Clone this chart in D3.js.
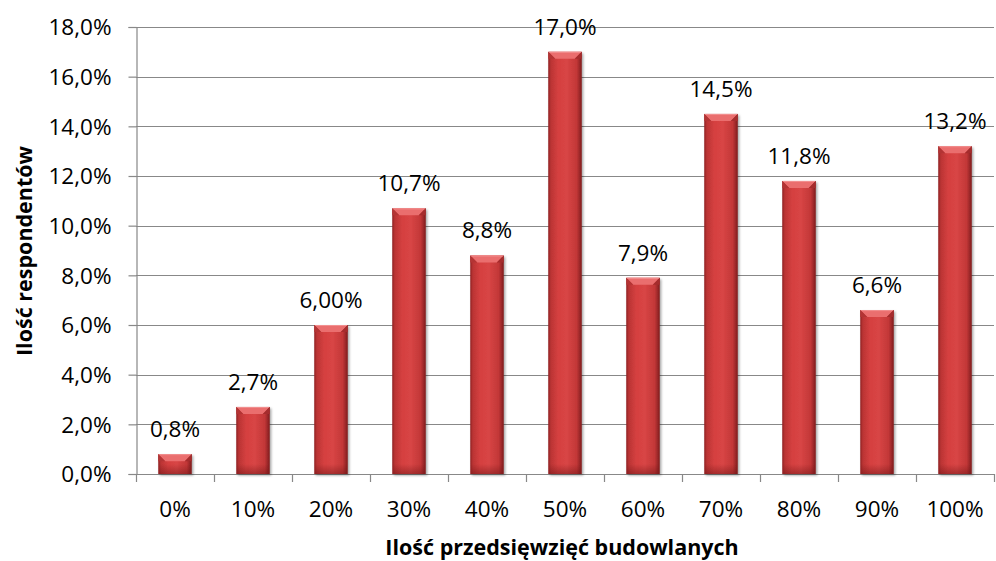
<!DOCTYPE html>
<html>
<head>
<meta charset="utf-8">
<script src="https://cdn.jsdelivr.net/npm/d3@7"></script>
<style>
  html, body { margin: 0; padding: 0; background: #fff; }
  svg { display: block; font-family: "Open Sans", Lato, "Noto Sans", sans-serif; }
</style>
</head>
<body>
<svg id="chart" width="996" height="561"></svg>
<script>
// Share of respondents by share of construction projects
const categories = ["0%", "10%", "20%", "30%", "40%", "50%", "60%", "70%", "80%", "90%", "100%"];
const values = [0.8, 2.7, 6.0, 10.7, 8.8, 17.0, 7.9, 14.5, 11.8, 6.6, 13.2];
const valueLabels = ["0,8%", "2,7%", "6,00%", "10,7%", "8,8%", "17,0%", "7,9%", "14,5%", "11,8%", "6,6%", "13,2%"];
const yTicks = [0, 2, 4, 6, 8, 10, 12, 14, 16, 18];
const xTitle = "Ilość przedsięwzięć budowlanych";
const yTitle = "Ilość respondentów";

const svg = d3.select("#chart");
const margin = { left: 136, right: 2, top: 27, bottom: 87 };
const W = 996, H = 561;
const x0 = margin.left, x1 = W - margin.right;
const y0 = H - margin.bottom, y1 = margin.top;
const fontSize = 22.5;
const titleSize = 21.5;

const x = d3.scaleBand().domain(categories).range([x0, x1]).paddingInner(0.57).paddingOuter(0.285);
const y = d3.scaleLinear().domain([0, 18]).range([y0, y1]);

const defs = svg.append("defs");
const body = defs.append("linearGradient").attr("id", "barBody").attr("x1", 0).attr("x2", 1).attr("y1", 0).attr("y2", 0);
[[0, "#902224"], [0.08, "#bb3434"], [0.3, "#d54040"], [0.55, "#d84545"], [0.85, "#c23737"], [1, "#7e1c1e"]]
  .forEach(([o, c]) => body.append("stop").attr("offset", o).attr("stop-color", c));
const bottomShade = defs.append("linearGradient").attr("id", "barBottom").attr("x1", 0).attr("x2", 0).attr("y1", 0).attr("y2", 1);
bottomShade.append("stop").attr("offset", 0).attr("stop-color", "#6a1214").attr("stop-opacity", 0);
bottomShade.append("stop").attr("offset", 1).attr("stop-color", "#6a1214").attr("stop-opacity", 0.45);
const shadow = defs.append("filter").attr("id", "shadow").attr("x", "-20%").attr("y", "-20%").attr("width", "140%").attr("height", "140%");
shadow.append("feDropShadow").attr("dx", 1.5).attr("dy", 1.5).attr("stdDeviation", 1.2).attr("flood-color", "#000").attr("flood-opacity", 0.35);

// gridlines
svg.append("g").selectAll("line").data(yTicks).join("line")
  .attr("x1", x0).attr("x2", x1)
  .attr("y1", d => Math.round(y(d)) + 0.5).attr("y2", d => Math.round(y(d)) + 0.5)
  .attr("stroke", "#888").attr("stroke-width", 1.2);

// y axis
const yAxis = d3.axisLeft(y).tickValues(yTicks).tickSize(8).tickPadding(17)
  .tickFormat(d => d3.format(".1f")(d).replace(".", ",") + "%");
const gy = svg.append("g").attr("transform", `translate(${x0 + 0.5},0)`).call(yAxis);
gy.attr("font-family", null).attr("font-size", null);
gy.selectAll("path.domain").attr("stroke", "#888").attr("stroke-width", 1.2);
gy.selectAll(".tick line").attr("stroke", "#888").attr("stroke-width", 1.2);
gy.selectAll("text").attr("font-size", fontSize).attr("fill", "#000").attr("dy", "0.35em");

// x axis with ticks between categories
const xAxisG = svg.append("g");
xAxisG.append("line").attr("x1", x0).attr("x2", x1).attr("y1", y0 + 0.5).attr("y2", y0 + 0.5)
  .attr("stroke", "#888").attr("stroke-width", 1.2);
const step = x.step();
const boundaries = d3.range(categories.length + 1).map(i => x0 + i * step);
xAxisG.selectAll("line.tk").data(boundaries).join("line").attr("class", "tk")
  .attr("x1", d => Math.round(d) + 0.5).attr("x2", d => Math.round(d) + 0.5)
  .attr("y1", y0).attr("y2", y0 + 8).attr("stroke", "#888").attr("stroke-width", 1.2);
xAxisG.selectAll("text").data(categories).join("text")
  .attr("x", d => x(d) + x.bandwidth() / 2).attr("y", y0 + 43)
  .attr("text-anchor", "middle").attr("font-size", fontSize).attr("fill", "#000").text(d => d);

// bars
const bars = svg.append("g").selectAll("g").data(values).join("g")
  .attr("transform", (d, i) => `translate(${x(categories[i])},0)`);
const bw = x.bandwidth();
const bevel = 7;
bars.append("rect").attr("x", 0).attr("width", bw)
  .attr("y", d => y(d)).attr("height", d => y0 - y(d))
  .attr("fill", "url(#barBody)").attr("filter", "url(#shadow)");
bars.append("rect").attr("x", 1).attr("width", bw - 2)
  .attr("y", d => Math.max(y(d), y0 - 10)).attr("height", d => Math.min(y0 - y(d), 10))
  .attr("fill", "url(#barBottom)");
// top bevel: light cap with sloping side facets
bars.append("polygon")
  .attr("points", d => {
    const t = y(d), b = Math.min(t + bevel, y0);
    return `0,${t} ${bw},${t} ${bw - bevel},${b} ${bevel},${b}`;
  })
  .attr("fill", "#ea6e6e");
bars.append("polygon")
  .attr("points", d => { const t = y(d), b = Math.min(t + bevel, y0); return `0,${t} ${bevel},${b} 0,${b}`; })
  .attr("fill", "#b33434");
bars.append("polygon")
  .attr("points", d => { const t = y(d), b = Math.min(t + bevel, y0); return `${bw},${t} ${bw - bevel},${b} ${bw},${b}`; })
  .attr("fill", "#a52c2d");
bars.append("line").attr("x1", 1).attr("x2", bw - 1)
  .attr("y1", d => y(d) + 0.5).attr("y2", d => y(d) + 0.5)
  .attr("stroke", "#f29090").attr("stroke-width", 1);

// value labels
svg.append("g").selectAll("text").data(values).join("text")
  .attr("x", (d, i) => x(categories[i]) + bw / 2)
  .attr("y", d => y(d) - 17)
  .attr("text-anchor", "middle").attr("font-size", fontSize).attr("fill", "#000")
  .text((d, i) => valueLabels[i]);

// axis titles
svg.append("text").attr("x", 562).attr("y", 555).attr("text-anchor", "middle")
  .attr("font-size", titleSize).attr("font-weight", "bold").attr("fill", "#000").text(xTitle);
svg.append("text").attr("transform", "translate(32,251) rotate(-90)").attr("text-anchor", "middle")
  .attr("font-size", titleSize).attr("font-weight", "bold").attr("fill", "#000").text(yTitle);
</script>
</body>
</html>
